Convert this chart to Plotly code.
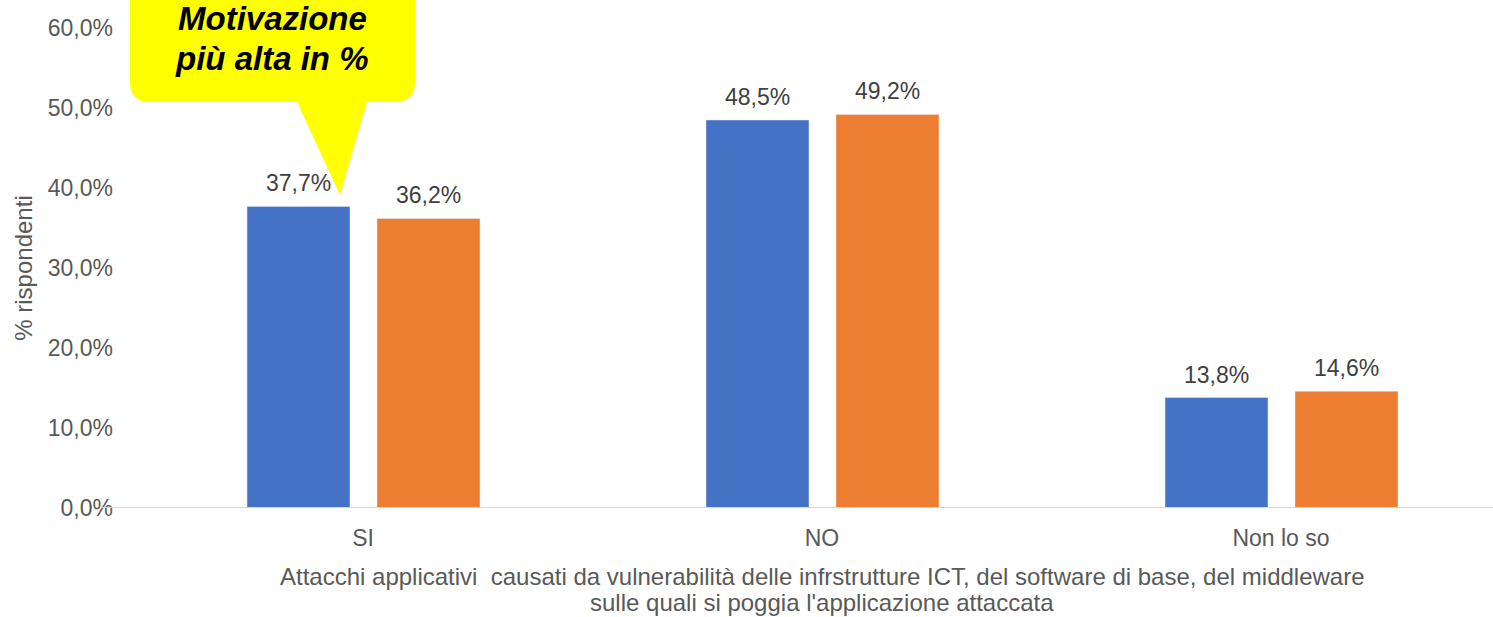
import plotly.graph_objects as go

categories = ["SI", "NO", "Non lo so"]
serie_a = [37.7, 48.5, 13.8]
serie_b = [36.2, 49.2, 14.6]
y_ticks = [0, 10, 20, 30, 40, 50, 60]
y_ticktext = ["0,0%", "10,0%", "20,0%", "30,0%", "40,0%", "50,0%", "60,0%"]
x_title_lines = ["Attacchi applicativi  causati da vulnerabilità delle infrstrutture ICT, del software di base, del middleware",
                 "sulle quali si poggia l'applicazione attaccata"]
callout_lines = ["Motivazione", "più alta in %"]

def lab(v):
    return f"{v:.1f}%".replace(".", ",")

FONT = "Liberation Sans, Arial, sans-serif"
GREY = "#595959"

W, H = 1493, 617
L, R, T, B = 120, 0, 28, 109
pw = W - L - R
ph = H - T - B
BAR_W = 0.2244
OFF_A, OFF_B = -0.2527, 0.0305

fig = go.Figure()
fig.add_trace(go.Bar(x=categories, y=serie_a, marker_color="#4472C4",
                     width=BAR_W, offset=OFF_A, showlegend=False, hoverinfo="skip"))
fig.add_trace(go.Bar(x=categories, y=serie_b, marker_color="#ED7D31",
                     width=BAR_W, offset=OFF_B, showlegend=False, hoverinfo="skip"))

def px(x):
    return (x - L) / pw

def py(y):
    return (H - B - y) / ph

unit_px = pw / (2.4619 + 0.5294)
annotations = []
for series, off in ((serie_a, OFF_A), (serie_b, OFF_B)):
    shift = (off + BAR_W / 2) * unit_px
    for c, v in zip(categories, series):
        annotations.append(dict(x=c, y=v, xref="x", yref="y", text=lab(v), showarrow=False,
                                xshift=shift, yshift=8, yanchor="bottom", xanchor="center",
                                font=dict(size=23, color="#404040", family=FONT)))

# x-axis title (two centred lines)
for txt, yy in zip(x_title_lines, (576, 602)):
    annotations.append(dict(xref="paper", yref="paper", x=px(822), y=py(yy), text=txt,
                            showarrow=False, xanchor="center", yanchor="middle",
                            font=dict(size=24, color=GREY, family=FONT)))

# callout shape (speech bubble)
x0, x1, yt, yb = px(130), px(415), py(-30), py(102)
rx, ry = 20 / pw, 20 / ph
path = (f"M {x0},{yt} L {x1},{yt} L {x1},{yb+ry} Q {x1},{yb} {x1-rx},{yb} "
        f"L {px(367)},{yb} L {px(340)},{py(195)} L {px(297)},{yb} "
        f"L {x0+rx},{yb} Q {x0},{yb} {x0},{yb+ry} Z")

for txt, yy in zip(callout_lines, (19, 58)):
    annotations.append(dict(xref="paper", yref="paper", x=px(272), y=py(yy), text=f"<b><i>{txt}</i></b>",
                            showarrow=False, font=dict(size=33, color="black", family=FONT),
                            xanchor="center", yanchor="middle"))

fig.update_layout(
    width=W, height=H,
    margin=dict(l=L, r=R, t=T, b=B),
    plot_bgcolor="white", paper_bgcolor="white",
    font=dict(family=FONT, color=GREY, size=22),
    barmode="overlay",
    xaxis=dict(range=[-0.5294, 2.4619], showgrid=False, zeroline=False,
               showline=False, ticks="", ticklabelstandoff=14,
               tickfont=dict(size=23, color=GREY)),
    yaxis=dict(range=[0, 60], tickvals=y_ticks, ticktext=y_ticktext,
               showgrid=False, zeroline=False, showline=False, ticks="",
               ticklabelstandoff=6,
               tickfont=dict(size=23, color=GREY),
               title=dict(text="% rispondenti", font=dict(size=24, color=GREY), standoff=8)),
    shapes=[
        dict(type="line", xref="paper", yref="y", x0=px(100), x1=1, y0=0, y1=0,
             line=dict(color="#D9D9D9", width=2), layer="above"),
        dict(type="path", xref="paper", yref="paper", path=path,
             fillcolor="#FFFF00", line=dict(width=0), layer="above"),
    ],
    annotations=annotations,
)

fig.write_html("out.html", config={"displayModeBar": False},
               post_script="document.body.style.margin='0';")
